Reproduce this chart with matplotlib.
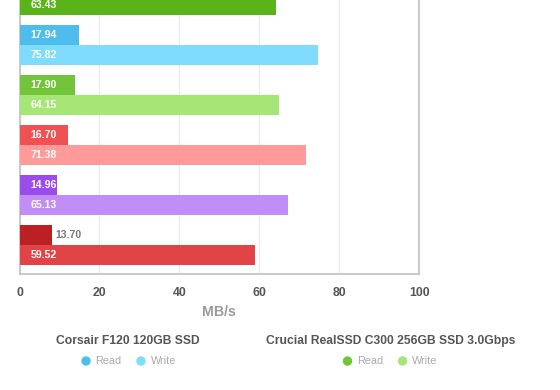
import numpy as np
import matplotlib
matplotlib.use("Agg")
import matplotlib.pyplot as plt

plt.rcParams['font.family'] = ['Liberation Sans', 'DejaVu Sans']

# ---- data ----
slots = ["drive 1", "Corsair F120", "Crucial C300", "drive 4", "drive 5", "drive 6"]
read_labels = [None, "17.94", "17.90", "16.70", "14.96", "13.70"]
write_labels = ["63.43", "75.82", "64.15", "71.38", "65.13", "59.52"]
# bar lengths as drawn in the picture (MB/s)
read_bars = [np.nan, 14.9, 13.9, 12.1, 9.4, 8.05]
write_bars = [64.1, 74.6, 64.8, 71.6, 67.1, 58.9]
read_colors = ["#5ab419", "#4ebdec", "#72c43a", "#ee5252", "#9b4deb", "#bb2024"]
write_colors = ["#5ab419", "#80dcfe", "#a6e676", "#ff9a9a", "#c18ef7", "#e04446"]
x_ticks = [0, 20, 40, 60, 80, 100]
x_label = "MB/s"
legend_titles = ["Corsair F120 120GB SSD", "Crucial RealSSD C300 256GB SSD 3.0Gbps"]
legend_items = [("Read", "#4ebdec"), ("Write", "#80dcfe"), ("Read", "#72c43a"), ("Write", "#a6e676")]

W, H = 560, 390
fig = plt.figure(figsize=(W / 100, H / 100), dpi=100)

left_px, right_px, bottom_px, top_px = 19.5, 419.3, 274, -34
ax = fig.add_axes([left_px / W, (H - bottom_px) / H,
                   (right_px - left_px) / W, (bottom_px - top_px) / H])

idx = np.arange(len(slots))
bh = 0.4
ax.barh(idx - 0.2, read_bars, height=bh, color=read_colors, zorder=3)
ax.barh(idx + 0.2, write_bars, height=bh, color=write_colors, zorder=3)

lab_fs = 7.6
for i in idx:
    if read_labels[i] is not None:
        if read_bars[i] > 9:
            ax.text(2.8, i - 0.2, read_labels[i], color="white", fontsize=lab_fs,
                    fontweight="bold", va="center", ha="left", zorder=4)
        else:
            ax.text(read_bars[i] + 0.9, i - 0.2, read_labels[i], color="#7a7a7a",
                    fontsize=lab_fs, fontweight="bold", va="center", ha="left", zorder=4)
    ax.text(2.8, i + 0.2, write_labels[i], color="white", fontsize=lab_fs,
            fontweight="bold", va="center", ha="left", zorder=4)

ax.set_xlim(0, 100)
ax.set_ylim(5.58, -0.58)
ax.set_xticks(x_ticks)
ax.set_xticklabels([str(t) for t in x_ticks], fontsize=8.8, fontweight="bold", color="#555555")
ax.tick_params(axis="x", length=0, pad=9.5)
ax.set_yticks([])
ax.grid(axis="x", color="#ebebeb", linewidth=1.0, zorder=0)
for s in ["left", "right", "bottom"]:
    ax.spines[s].set_color("#c0c0c0")
    ax.spines[s].set_linewidth(1.2)
ax.spines["top"].set_visible(False)
ax.set_xlabel(x_label, fontsize=10.2, fontweight="bold", color="#9a9a9a", labelpad=4)

# overlay for legend
ov = fig.add_axes([0, 0, 1, 1])
ov.set_xlim(0, W)
ov.set_ylim(H, 0)
ov.axis("off")
ov.patch.set_alpha(0)

ov.text(127.5, 341, legend_titles[0], ha="center", va="center", fontsize=8.7,
        fontweight="bold", color="#555555")
ov.text(391, 341, legend_titles[1], ha="center", va="center", fontsize=8.7,
        fontweight="bold", color="#555555")

marker_x = [86, 141, 347.5, 402.5]
for (lab, col), mx in zip(legend_items, marker_x):
    ov.scatter([mx], [361], s=46, color=col, edgecolors="none")
    ov.text(mx + 9.5, 361.5, lab, ha="left", va="center", fontsize=7.8, color="#aaaaaa")

fig.savefig("out.png", dpi=100)
